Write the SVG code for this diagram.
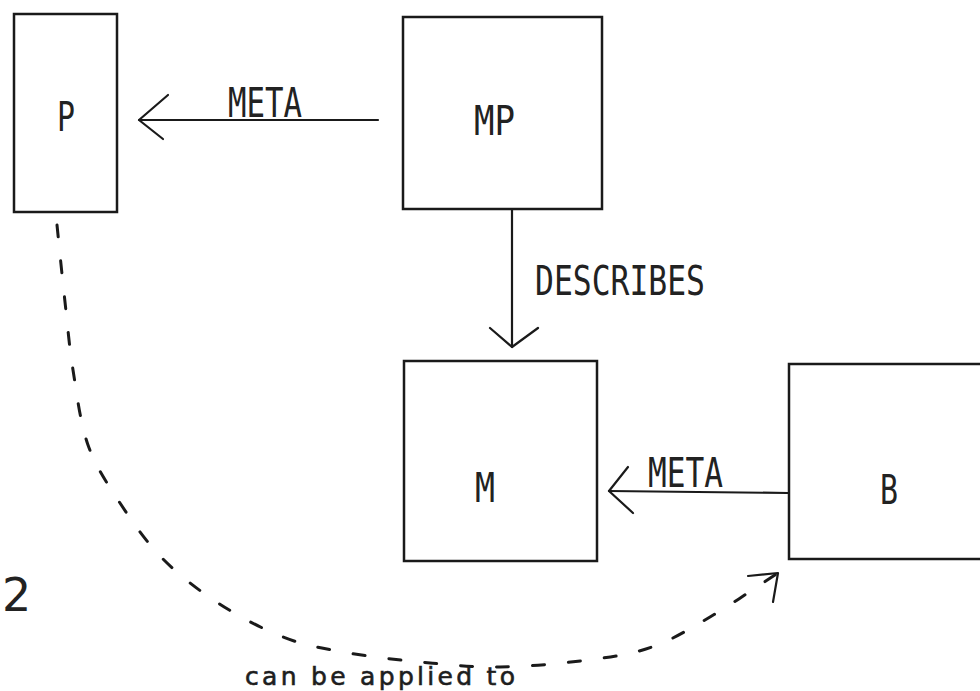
<svg xmlns="http://www.w3.org/2000/svg" width="980" height="691" viewBox="0 0 980 691">
  <style>
    .box { fill: none; stroke: #1a1a1a; stroke-width: 2.5; }
    .lbl { font-family: "DejaVu Sans Mono", "Liberation Mono", monospace; font-size: 40px; fill: #222; }
    .edge { fill: none; stroke: #1a1a1a; stroke-width: 2.2; stroke-linecap: round; stroke-linejoin: round; }
    .dash { fill: none; stroke: #1a1a1a; stroke-width: 3; stroke-dasharray: 12 24; stroke-linecap: round; }
    .note { font-family: "DejaVu Sans", Verdana, sans-serif; font-size: 25px; fill: #1e1e1e; stroke: #1e1e1e; stroke-width: 0.6; }
  </style>
  <rect x="0" y="0" width="980" height="691" fill="#ffffff"/>

  <g id="connectors">
    <g id="meta-mp-p">
      <line class="edge" x1="378" y1="120" x2="139" y2="120"/>
      <polyline class="edge" points="168,95 139,120 163,139"/>
      <text class="lbl" x="228" y="117" textLength="74" lengthAdjust="spacingAndGlyphs">META</text>
    </g>
    <g id="describes-mp-m">
      <line class="edge" x1="512" y1="209" x2="512" y2="347"/>
      <polyline class="edge" points="490,328 512,347 538,328"/>
      <text class="lbl" x="535" y="295" textLength="170" lengthAdjust="spacingAndGlyphs">DESCRIBES</text>
    </g>
    <g id="meta-b-m">
      <line class="edge" x1="788" y1="493" x2="609" y2="491"/>
      <polyline class="edge" points="628,467 609,491 633,513"/>
      <text class="lbl" x="648" y="487" textLength="75" lengthAdjust="spacingAndGlyphs">META</text>
    </g>
    <g id="applied-p-b">
      <path class="dash" d="M57,225 C58.3,237.8 62.3,277.8 65,302 C67.7,326.2 69.2,346.2 73,370 C76.8,393.8 80.2,422.8 88,445 C95.8,467.2 107.7,484.2 120,503 C132.3,521.8 145.7,541.3 162,558 C178.3,574.7 197.8,589.8 218,603 C238.2,616.2 262.2,628.8 283,637 C303.8,645.2 320.2,647.8 343,652 C365.8,656.2 393.8,659.5 420,662 C446.2,664.5 472,667.3 500,667 C528,666.7 562.7,663.3 588,660 C613.3,656.7 631.7,654.2 652,647 C672.3,639.8 689,629.3 710,617 C731,604.7 766.7,580.3 778,573"/>
      <polyline class="edge" points="748,576 778,573 773,602" stroke-width="2.8"/>
      <text class="note" x="245" y="685" textLength="270" lengthAdjust="spacing">can be applied to</text>
    </g>
  </g>

  <g id="node-P">
    <rect class="box" x="14" y="14" width="103" height="198"/>
    <text class="lbl" x="57" y="131" textLength="18" lengthAdjust="spacingAndGlyphs">P</text>
  </g>
  <g id="node-MP">
    <rect class="box" x="403" y="17" width="199" height="192"/>
    <text class="lbl" x="474" y="135" textLength="41" lengthAdjust="spacingAndGlyphs">MP</text>
  </g>
  <g id="node-M">
    <rect class="box" x="404" y="361" width="193" height="200"/>
    <text class="lbl" x="475" y="502" textLength="20" lengthAdjust="spacingAndGlyphs">M</text>
  </g>
  <g id="node-B">
    <rect class="box" x="789" y="364" width="200" height="195"/>
    <text class="lbl" x="880" y="504" textLength="18" lengthAdjust="spacingAndGlyphs">B</text>
  </g>

  <text x="2" y="611" font-family="DejaVu Sans, sans-serif" font-size="46" fill="#222">2</text>
</svg>
